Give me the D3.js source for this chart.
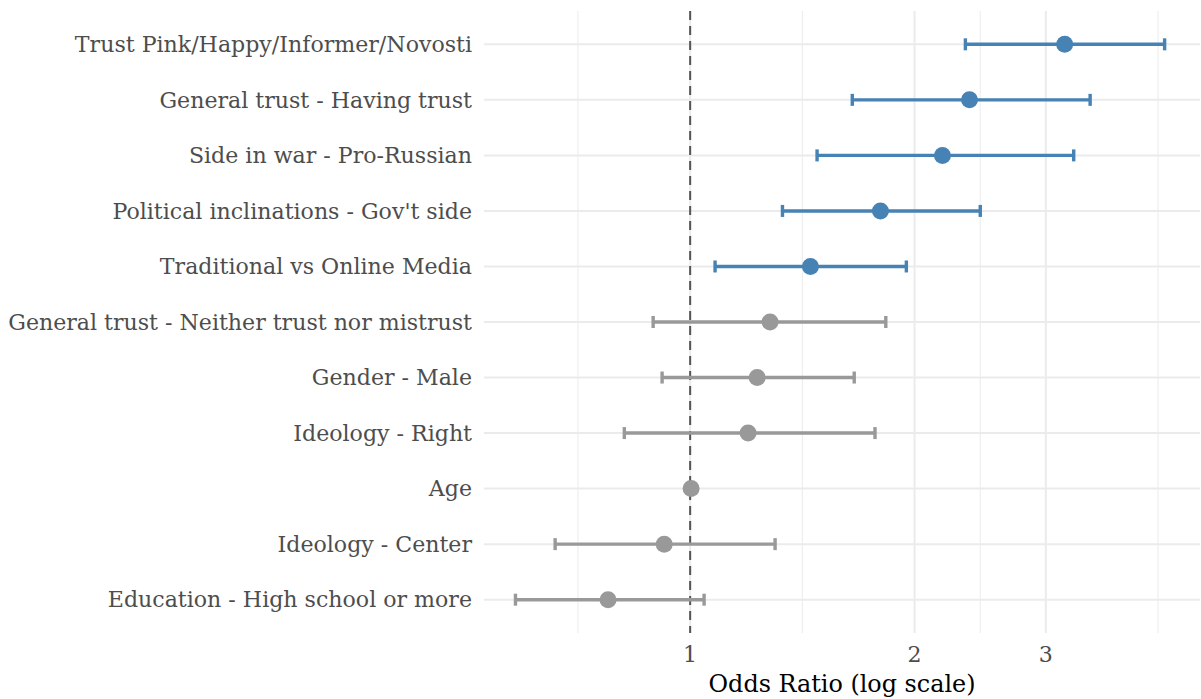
<!DOCTYPE html>
<html lang="en">
  <head>
    <meta charset="utf-8">
    <title>Odds ratios</title>
    <script src="https://cdn.jsdelivr.net/npm/d3@7"></script>
    <style>
      body { margin: 0; background: #fff; }
      .grid line { stroke: #ebebeb; }
      .label { font-family: "DejaVu Serif", serif; fill: #4d4d4d; }
      .axis-title { font-family: "DejaVu Serif", serif; fill: #000; }
    </style>
  </head>
  <body>
    <script>
      var terms = [
        "Trust Pink/Happy/Informer/Novosti",
        "General trust - Having trust",
        "Side in war - Pro-Russian",
        "Political inclinations - Gov't side",
        "Traditional vs Online Media",
        "General trust - Neither trust nor mistrust",
        "Gender - Male",
        "Ideology - Right",
        "Age",
        "Ideology - Center",
        "Education - High school or more"
      ];
      var estimate = [3.18, 2.37, 2.18, 1.80, 1.45, 1.28, 1.23, 1.196, 1.003, 0.923, 0.776];
      var confLow  = [2.34, 1.65, 1.48, 1.33, 1.08, 0.892, 0.917, 0.816, 0.995, 0.659, 0.583];
      var confHigh = [4.33, 3.44, 3.27, 2.45, 1.95, 1.83, 1.66, 1.77, 1.011, 1.30, 1.044];
      var significant = [true, true, true, true, true, false, false, false, false, false, false];
      var majorTicks = [1, 2, 3];
      var minorTicks = [Math.SQRT1_2, Math.SQRT2, Math.sqrt(6), Math.sqrt(18)];

      var w = 1201, h = 699;
      var pLeft = 484, pRight = 1200, pTop = 11, pBottom = 633;

      var rows = terms.map(function (t, i) {
        return { term: t, est: estimate[i], lo: confLow[i], hi: confHigh[i], sig: significant[i] };
      });

      var xScale = d3.scaleLog()
                     .domain([0.529, 4.83])
                     .range([pLeft, pRight]);

      var yScale = d3.scalePoint()
                     .domain(terms)
                     .range([pTop, pBottom])
                     .padding(0.6);

      var svg = d3.select("body")
                  .append("svg")
                  .attr("width", w)
                  .attr("height", h);

      // grid
      var grid = svg.append("g").attr("class", "grid");
      grid.selectAll(".minor")
          .data(minorTicks)
          .enter().append("line")
          .attr("x1", function (d) { return xScale(d); })
          .attr("x2", function (d) { return xScale(d); })
          .attr("y1", pTop).attr("y2", pBottom)
          .attr("stroke-width", 1);
      grid.selectAll(".major")
          .data(majorTicks)
          .enter().append("line")
          .attr("x1", function (d) { return xScale(d); })
          .attr("x2", function (d) { return xScale(d); })
          .attr("y1", pTop).attr("y2", pBottom)
          .attr("stroke-width", 2);
      grid.selectAll(".hline")
          .data(terms)
          .enter().append("line")
          .attr("x1", pLeft).attr("x2", pRight)
          .attr("y1", function (d) { return yScale(d); })
          .attr("y2", function (d) { return yScale(d); })
          .attr("stroke-width", 2);

      // reference line at 1
      svg.append("line")
         .attr("x1", xScale(1)).attr("x2", xScale(1))
         .attr("y1", pTop).attr("y2", pBottom)
         .attr("stroke", "#555")
         .attr("stroke-width", 2)
         .attr("stroke-dasharray", "9,6");

      var colour = function (d) { return d.sig ? "#4682b4" : "#999999"; };

      var bars = svg.append("g").selectAll("g")
                    .data(rows)
                    .enter().append("g");

      bars.append("line")
          .attr("x1", function (d) { return xScale(d.lo); })
          .attr("x2", function (d) { return xScale(d.hi); })
          .attr("y1", function (d) { return yScale(d.term); })
          .attr("y2", function (d) { return yScale(d.term); })
          .attr("stroke", colour)
          .attr("stroke-width", 3.4);

      ["lo", "hi"].forEach(function (k) {
        bars.append("line")
            .attr("x1", function (d) { return xScale(d[k]); })
            .attr("x2", function (d) { return xScale(d[k]); })
            .attr("y1", function (d) { return yScale(d.term) - 6; })
            .attr("y2", function (d) { return yScale(d.term) + 6; })
            .attr("stroke", colour)
            .attr("stroke-width", 3.4);
      });

      bars.append("circle")
          .attr("cx", function (d) { return xScale(d.est); })
          .attr("cy", function (d) { return yScale(d.term); })
          .attr("r", 8.5)
          .attr("fill", colour);

      // y labels
      var labels = svg.append("g").selectAll("text")
                      .data(terms)
                      .enter().append("text")
                      .attr("class", "label")
                      .attr("x", 472)
                      .attr("y", function (d) { return yScale(d); })
                      .attr("dy", "0.35em")
                      .attr("text-anchor", "end")
                      .style("font-size", "18px")
                      .text(function (d) { return d; });

      // fit the longest label to the width seen in the reference
      var longest = d3.max(labels.nodes(), function (n) { return n.getComputedTextLength(); });
      var fs = 18 * 464 / longest;
      labels.style("font-size", fs + "px");

      // x axis labels
      svg.append("g").selectAll("text")
         .data(majorTicks)
         .enter().append("text")
         .attr("class", "label")
         .attr("x", function (d) { return xScale(d); })
         .attr("y", 654)
         .attr("dy", "0.35em")
         .attr("text-anchor", "middle")
         .style("font-size", fs + "px")
         .text(function (d) { return d; });

      svg.append("text")
         .attr("class", "axis-title")
         .attr("x", (pLeft + pRight) / 2)
         .attr("y", 684)
         .attr("dy", "0.35em")
         .attr("text-anchor", "middle")
         .style("font-size", (fs * 1.08) + "px")
         .text("Odds Ratio (log scale)");
    </script>
  </body>
</html>
